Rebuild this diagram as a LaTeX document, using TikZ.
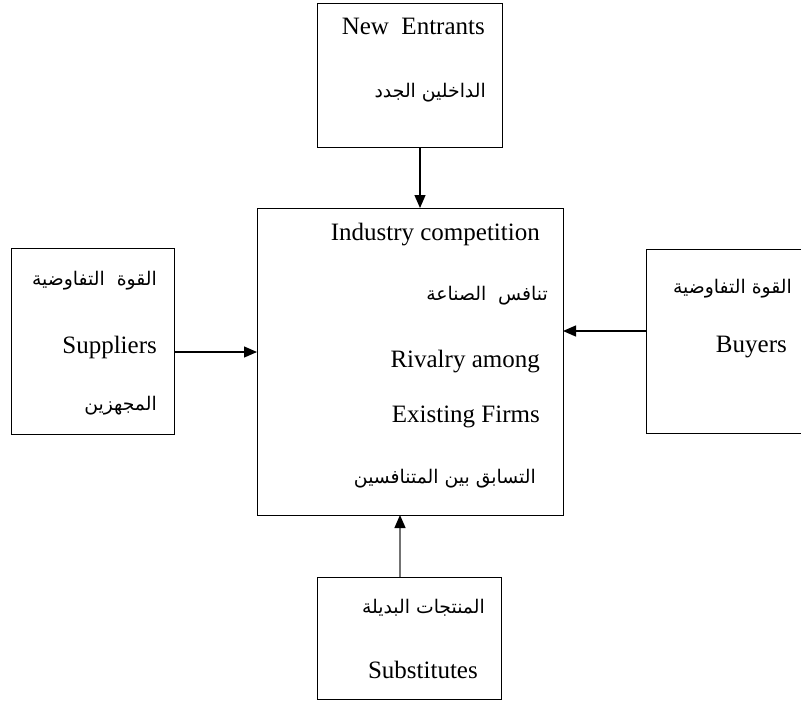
\documentclass[tikz,border=0pt]{standalone}
\usepackage{fontspec}
\setmainfont{Liberation Serif}
\newfontfamily\arabicfont[Script=Arabic]{DejaVu Sans}
\TeXXeTstate=1
\usetikzlibrary{arrows.meta}
\newcommand{\ar}[1]{{\arabicfont\fontsize{18.8}{22}\selectfont\beginR #1\endR}}
\begin{document}
\begin{tikzpicture}[x=1pt,y=-1pt,
  box/.style={draw=black,line width=1.3pt,inner sep=0pt,anchor=north west},
  lat/.style={anchor=base east,inner sep=0pt,font=\fontsize{25}{29}\selectfont},
  arb/.style={anchor=base east,inner sep=0pt},
  conn/.style={line width=1.3pt,-{Triangle[length=13pt,width=11pt,color=black]}}]
\useasboundingbox (0,0) rectangle (801,702);
\clip (0,0) rectangle (801,702);
% boxes
\node[box,minimum width=185pt,minimum height=144pt] (ne) at (317,3) {};
\node[box,minimum width=306pt,minimum height=307pt] (ic) at (257,208) {};
\node[box,minimum width=163pt,minimum height=186pt] (su) at (11,248) {};
\node[box,minimum width=170pt,minimum height=184pt] (bu) at (646,249) {};
\node[box,minimum width=184pt,minimum height=122pt] (sb) at (317,577) {};
% texts
\node[lat] (t1) at (485,34) {New\ \ Entrants};
\node[arb] (t2) at (486,97) {\ar{الداخلين الجدد}};
\node[lat] (t3) at (540,240) {Industry competition};
\node[arb] (t4) at (548,300) {\ar{تنافس\ \ الصناعة}};
\node[lat] (t5) at (540,367) {Rivalry among};
\node[lat] (t6) at (540,422) {Existing Firms};
\node[arb] (t7) at (536,483) {\ar{التسابق بين المتنافسين}};
\node[arb] (t8) at (157,285) {\ar{القوة\ \ التفاوضية}};
\node[lat] (t9) at (157,353) {Suppliers};
\node[arb] (t10) at (157,410) {\ar{المجهزين}};
\node[arb] (t11) at (792,293) {\ar{القوة التفاوضية}};
\node[lat] (t12) at (787,352) {Buyers};
\node[arb] (t13) at (485,613) {\ar{المنتجات البديلة}};
\node[lat] (t14) at (478,678) {Substitutes};
% connectors
\coordinate (a1) at (420,147);
\coordinate (a1e) at (420,208);
\draw[conn] (a1) -- (a1e);
\coordinate (a2) at (174,352);
\coordinate (a2e) at (257,352);
\draw[conn] (a2) -- (a2e);
\coordinate (a3) at (646,331);
\coordinate (a3e) at (563,331);
\draw[conn] (a3) -- (a3e);
\coordinate (a4) at (400,577);
\coordinate (a4e) at (400,515);
\draw[conn,draw=black!55] (a4) -- (a4e);
\end{tikzpicture}
\end{document}
